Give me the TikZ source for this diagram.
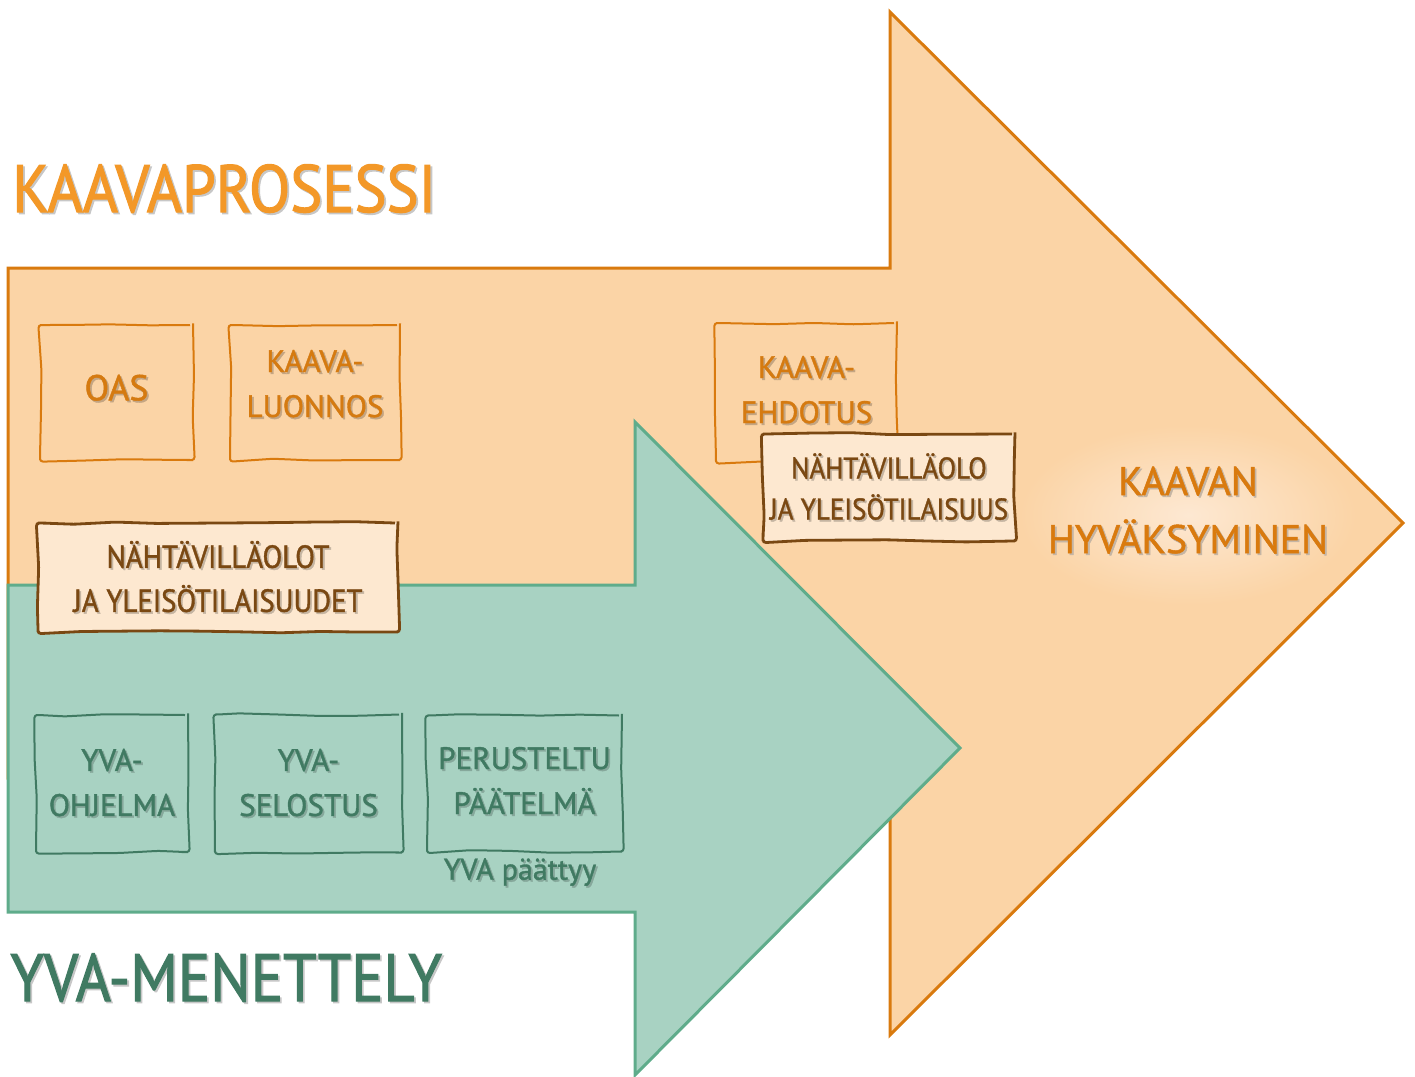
\documentclass[tikz,border=0pt]{standalone}
\usepackage{fontspec}
\setmainfont[FakeBold=1.2]{PT Sans}
\newfontfamily\titlefont[FakeStretch=0.9, FakeBold=1.6]{PT Sans}
\newfontfamily\eventfont[FakeStretch=0.9, FakeBold=1.2]{PT Sans}
\usepackage{xcolor}
\usepackage{tikz}
\usetikzlibrary{positioning,decorations.pathmorphing}
\definecolor{kaavafill}{RGB}{251,212,166}
\definecolor{kaavaline}{RGB}{217,122,14}
\definecolor{kaavatitle}{RGB}{243,152,40}
\definecolor{kaavatext}{RGB}{213,122,16}
\definecolor{glowfill}{RGB}{253,232,210}
\definecolor{brownline}{RGB}{122,72,18}
\definecolor{brownfill}{RGB}{253,232,208}
\definecolor{yvafill}{RGB}{168,210,194}
\definecolor{yvaline}{RGB}{95,172,139}
\definecolor{yvadark}{RGB}{64,122,98}
\colorlet{shadowcol}{black!25}
% text with a soft drop shadow
\newcommand{\shd}[1]{\leavevmode\rlap{\kern0.9pt\raisebox{-0.9pt}{\color{shadowcol}#1}}#1}

\begin{document}
\pgfmathsetseed{7}
\begin{tikzpicture}[x=0.5pt, y=-0.5pt,
    sketch/.style={decorate, decoration={random steps, segment length=20pt, amplitude=0.7pt},
                   rounded corners=1.5pt},
    kaavabox/.style={sketch, draw=kaavaline, line width=1pt, text=kaavatext, align=center,
                     inner sep=0pt, font=\fontsize{15.5}{22.5}\selectfont,
                     execute at begin node={\colorlet{shadowcol}{kaavafill!78!black}}},
    yvabox/.style={sketch, draw=yvadark, line width=1pt, text=yvadark, align=center,
                   inner sep=0pt, font=\fontsize{15.5}{22.5}\selectfont,
                   execute at begin node={\colorlet{shadowcol}{yvafill!80!black}}},
    eventbox/.style={sketch, draw=brownline, fill=brownfill, line width=1.4pt, text=brownline,
                     align=center, inner sep=0pt, font=\eventfont\fontsize{16}{22}\selectfont,
                     execute at begin node={\colorlet{shadowcol}{brownfill!78!black}}},
    bigarrow/.style={line width=1.5pt, line join=miter}
]
\useasboundingbox (0,0) rectangle (1415,1077);

% kaavaprosessi
\draw[bigarrow, draw=kaavaline, fill=kaavafill]
  (8,268) -- (890,268) -- (890,12) -- (1403,523) -- (890,1035) -- (890,778) -- (8,778) -- cycle;
\node[anchor=base west, text=kaavatitle, inner sep=0pt, font=\titlefont\fontsize{33.5}{40}\selectfont]
  (kaavaprosessi) at (12,212) {\colorlet{shadowcol}{black!22}\shd{KAAVAPROSESSI}};
\shade[inner color=glowfill, outer color=kaavafill] (1188,515) ellipse [x radius=168, y radius=90];

\node[kaavabox, minimum width=76.5pt, minimum height=67.5pt, text depth=5pt,
      font=\fontsize{18}{22}\selectfont] (oas) at (116.5,392.5) {\shd{OAS}};
\node[kaavabox, minimum width=85pt, minimum height=67.5pt, text depth=9pt, right=17.5pt of oas]
  (luonnos) {\shd{KAAVA-}\\\shd{LUONNOS}};
\node[kaavabox, minimum width=90.5pt, minimum height=69.5pt, text depth=3pt] (ehdotus)
  at (806.5,392.5) {\shd{KAAVA-}\\\shd{EHDOTUS}};
\node[text=kaavaline, align=center, inner sep=0pt, font=\fontsize{20}{29}\selectfont,
      execute at begin node={\colorlet{shadowcol}{glowfill!78!black}}]
  (hyvaksyminen) at (1188,511) {\shd{KAAVAN}\\\shd{HYVÄKSYMINEN}};

% yva-menettely
\draw[bigarrow, draw=yvaline, fill=yvafill]
  (8,585) -- (635,585) -- (635,422) -- (960,748) -- (635,1075) -- (635,912) -- (8,912) -- cycle;
\node[anchor=base west, text=yvadark, inner sep=0pt, font=\titlefont\fontsize{33.5}{40}\selectfont]
  (yvamenettely) at (10,1001) {\colorlet{shadowcol}{black!22}\shd{YVA-MENETTELY}};

\node[yvabox, minimum width=76pt, minimum height=68.5pt] (ohjelma) at (112,783.5)
  {\shd{YVA-}\\\shd{OHJELMA}};
\node[yvabox, minimum width=93.5pt, minimum height=69pt, right=12.5pt of ohjelma]
  (selostus) {\shd{YVA-}\\\shd{SELOSTUS}};
\node[yvabox, minimum width=97.5pt, minimum height=68pt, text depth=3pt, right=11.5pt of selostus]
  (paatelma) {\shd{PERUSTELTU}\\\shd{PÄÄTELMÄ}};
\node[text=yvadark, inner sep=0pt, font=\fontsize{15}{18}\selectfont,
      execute at begin node={\colorlet{shadowcol}{yvafill!80!black}}] (paattyy) at (520,873)
  {\shd{YVA päättyy}};

% nahtavillaolot
\node[eventbox, minimum width=180pt, minimum height=54.5pt] (nahtolot) at (218,577.5)
  {\shd{NÄHTÄVILLÄOLOT}\\\shd{JA YLEISÖTILAISUUDET}};
\node[eventbox, minimum width=126pt, minimum height=53.5pt, font=\eventfont\fontsize{15}{20.5}\selectfont]
  (nahtolo) at (889,487.5) {\shd{NÄHTÄVILLÄOLO}\\\shd{JA YLEISÖTILAISUUS}};
\end{tikzpicture}
\end{document}
